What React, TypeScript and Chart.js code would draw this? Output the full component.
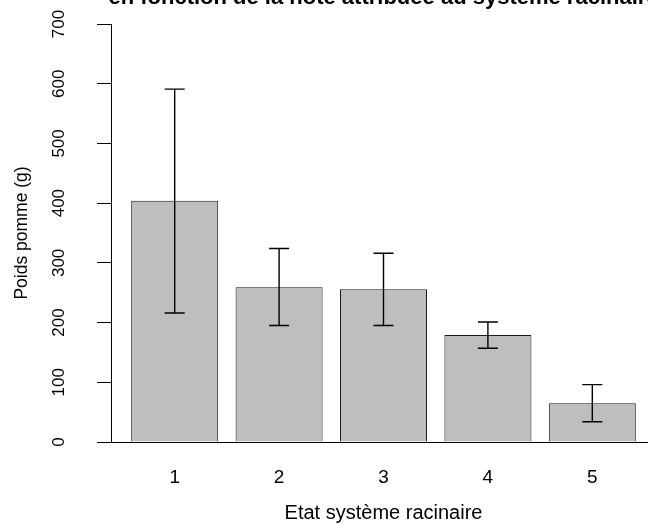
import React, { useEffect, useRef } from "react";
import { Chart, registerables } from "chart.js";

Chart.register(...registerables);

const chartTitle = "en fonction de la note attribuée au système racinaire";
const xAxisTitle = "Etat système racinaire";
const yAxisTitle = "Poids pomme (g)";
const categories = ["1", "2", "3", "4", "5"];
const meanWeight = [404, 259, 256, 179, 65];
const errLower = [216, 195, 195, 157, 34];
const errUpper = [591, 324, 316, 201, 96];
const yMin = 0;
const yMax = 700;
const yStep = 100;

const FONT = '"Liberation Sans", Arial, Helvetica, sans-serif';

const errorBarPlugin = {
  id: "errorBars",
  afterDatasetsDraw(chart: any) {
    const { ctx } = chart;
    const meta = chart.getDatasetMeta(0);
    const yScale = chart.scales.y;
    ctx.save();
    ctx.strokeStyle = "#000";
    ctx.lineWidth = 1.4;
    meta.data.forEach((bar: any, i: number) => {
      const x = bar.x;
      const yHi = yScale.getPixelForValue(errUpper[i]);
      const yLo = yScale.getPixelForValue(errLower[i]);
      ctx.beginPath();
      ctx.moveTo(x, yHi);
      ctx.lineTo(x, yLo);
      ctx.moveTo(x - 10, yHi);
      ctx.lineTo(x + 10, yHi);
      ctx.moveTo(x - 10, yLo);
      ctx.lineTo(x + 10, yLo);
      ctx.stroke();
    });
    ctx.restore();
  },
};

const titlePlugin = {
  id: "clippedTitle",
  afterDraw(chart: any) {
    const { ctx, chartArea } = chart;
    ctx.save();
    ctx.fillStyle = "#000";
    ctx.font = `bold 22px ${FONT}`;
    ctx.textAlign = "center";
    ctx.textBaseline = "alphabetic";
    ctx.fillText(chartTitle, (chartArea.left + chartArea.right) / 2, 4);
    ctx.restore();
  },
};

export default function App() {
  const canvasRef = useRef<HTMLCanvasElement | null>(null);

  useEffect(() => {
    if (!canvasRef.current) return;
    const chart = new Chart(canvasRef.current, {
      type: "bar",
      data: {
        datasets: [
          {
            label: yAxisTitle,
            data: categories.map((_, i) => ({ x: i + 1, y: meanWeight[i] })),
            backgroundColor: "#bebebe",
            borderColor: "#1a1a1a",
            borderWidth: 1,
            barPercentage: 1 / 1.2,
            categoryPercentage: 1,
          },
        ],
      },
      options: {
        animation: false,
        responsive: true,
        maintainAspectRatio: false,
        devicePixelRatio: 1,
        layout: { padding: { top: 24, left: 0, right: 0, bottom: 0 } },
        plugins: {
          legend: { display: false },
          tooltip: { enabled: false },
          title: { display: false },
        },
        scales: {
          x: {
            type: "linear",
            position: "bottom",
            offset: false,
            bounds: "data",
            min: 0.39,
            max: 5.61,
            afterBuildTicks: (scale: any) => {
              scale.ticks = categories.map((_, i) => ({ value: i + 1 }));
            },
            afterFit: (scale: any) => {
              scale.height = 83;
              scale.paddingLeft = 0;
              scale.paddingRight = 0;
            },
            grid: { display: false, offset: false },
            border: { display: true, color: "#000", width: 1 },
            ticks: {
              autoSkip: false,
              maxRotation: 0,
              minRotation: 0,
              padding: 16,
              color: "#000",
              font: { family: FONT, size: 19 },
              callback: (v: any) => categories[Math.round(Number(v)) - 1] ?? "",
            },
            title: {
              display: true,
              text: xAxisTitle,
              color: "#000",
              font: { family: FONT, size: 20 },
              padding: { top: 0, bottom: 0 },
            },
          },
          y: {
            type: "linear",
            position: "left",
            min: yMin,
            max: yMax,
            afterFit: (scale: any) => {
              scale.width = 111;
              scale.paddingTop = 0;
              scale.paddingBottom = 0;
            },
            grid: {
              display: true,
              drawOnChartArea: false,
              drawTicks: true,
              tickLength: 14,
              color: "#000",
              lineWidth: 1,
            },
            border: { display: true, color: "#000", width: 1 },
            ticks: {
              stepSize: yStep,
              autoSkip: false,
              minRotation: 90,
              maxRotation: 90,
              crossAlign: "center",
              padding: 24,
              color: "#000",
              font: { family: FONT, size: 17 },
            },
            title: {
              display: true,
              text: yAxisTitle,
              color: "#000",
              font: { family: FONT, size: 17.5 },
              padding: { top: 12, bottom: 0 },
            },
          },
        },
      } as any,
      plugins: [errorBarPlugin, titlePlugin],
    });
    return () => chart.destroy();
  }, []);

  return (
    <div
      style={{
        position: "fixed",
        left: 0,
        top: 0,
        width: 648,
        height: 525,
        overflow: "hidden",
        background: "#fff",
      }}
    >
      <div style={{ position: "relative", width: 656, height: 525 }}>
        <canvas ref={canvasRef} />
      </div>
    </div>
  );
}
